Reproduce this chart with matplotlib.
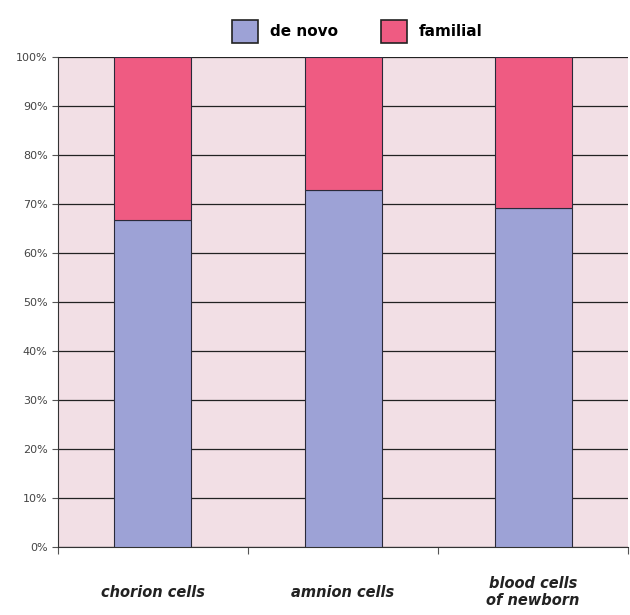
import numpy as np
import matplotlib
matplotlib.use("Agg")
import matplotlib.pyplot as plt
from matplotlib.patches import Patch

categories = ["chorion cells", "amnion cells", "blood cells\nof newborn"]
de_novo = [66.7, 72.9, 69.2]
familial = [100 - v for v in de_novo]
yticks = [0, 10, 20, 30, 40, 50, 60, 70, 80, 90, 100]

blue = "#9da2d6"
pink = "#ef5b82"

fig = plt.figure(figsize=(6.3, 6.15), dpi=100)
ax = fig.add_axes([0.092, 0.1106, 0.905, 0.7967])
ax.set_facecolor("#f2dfe5")

x = np.arange(len(categories))
ax.bar(x, de_novo, width=0.405, color=blue, edgecolor="#2a2a3a", linewidth=0.8, zorder=3)
ax.bar(x, familial, bottom=de_novo, width=0.405, color=pink, edgecolor="#2a2a3a", linewidth=0.8, zorder=3)

ax.set_xlim(-0.5, 2.5)
ax.set_ylim(0, 100)
ax.set_yticks(yticks)
ax.set_yticklabels([f"{t}%" for t in yticks], color="#444444", fontsize=8)
ax.yaxis.grid(True, color="#222222", linewidth=0.9, zorder=0)
ax.set_axisbelow(True)

# category boundaries as major ticks; category names centred below
ax.set_xticks([-0.5, 0.5, 1.5, 2.5])
ax.set_xticklabels([])
for xi, name in zip(x, categories):
    ax.text(xi, -0.092, name, transform=ax.get_xaxis_transform(),
            ha="center", va="center", fontsize=10.5, style="italic",
            fontweight="bold", color="#222222", linespacing=1.1)
ax.tick_params(axis="x", which="major", length=5, color="#555555")
ax.tick_params(axis="y", length=4, color="#555555")

for s in ["top", "right"]:
    ax.spines[s].set_visible(False)
ax.spines["left"].set_color("#333333")
ax.spines["bottom"].set_color("#333333")

handles = [Patch(facecolor=blue, edgecolor="#222222", linewidth=1.2, label="de novo"),
           Patch(facecolor=pink, edgecolor="#222222", linewidth=1.2, label="familial")]
fig.legend(handles=handles, loc="upper center", bbox_to_anchor=(0.567, 0.99), ncol=2,
           frameon=False, handlelength=1.7, handleheight=1.9,
           columnspacing=2.8, handletextpad=0.8,
           prop={"weight": "bold", "size": 11})

fig.savefig("out.png", dpi=100)
